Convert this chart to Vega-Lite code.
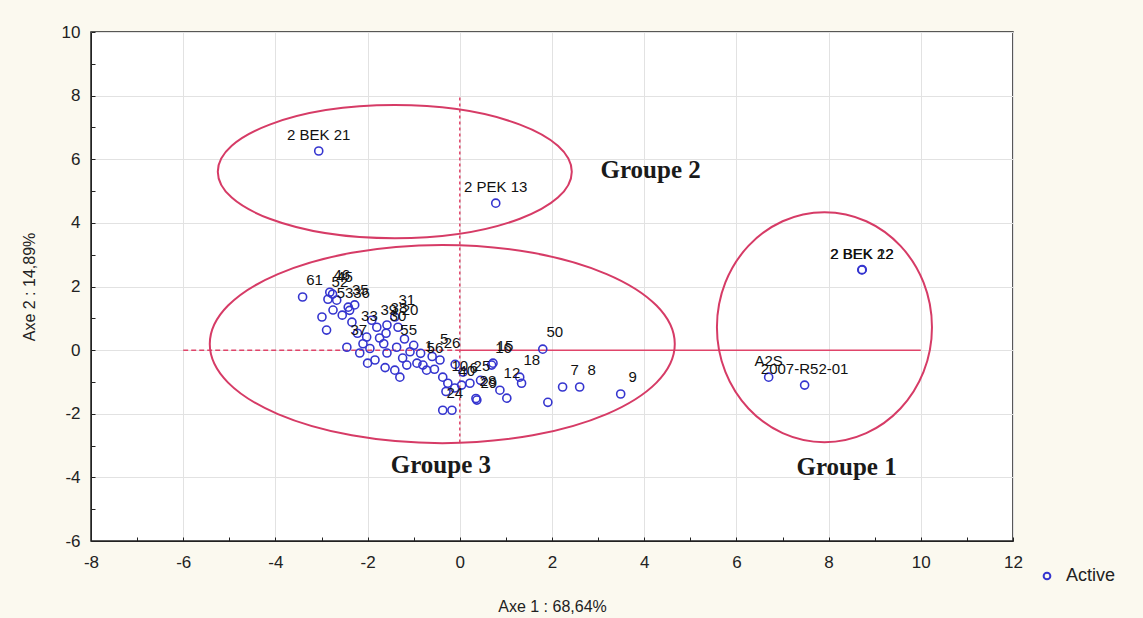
{
  "$schema": "https://vega.github.io/schema/vega-lite/v6.json",
  "width": 922,
  "height": 509,
  "autosize": "none",
  "padding": {"left": 91, "top": 32, "right": 130, "bottom": 77},
  "background": "#fbf9ef",
  "config": {
    "view": {"fill": "white", "stroke": "#222222", "strokeWidth": 1.5},
    "font": "Liberation Sans",
    "axis": {
      "gridColor": "#e2e2e2",
      "tickColor": "#222222",
      "domainColor": "#222222",
      "labelColor": "#222222",
      "labelFontSize": 17,
      "titleFontSize": 16,
      "titleFontWeight": "normal",
      "titleColor": "#222222",
      "tickSize": -4,
      "labelFlush": false,
      "labelOverlap": false,
      "gridOpacity": {"condition": {"test": "datum.value % 2 != 0", "value": 0}, "value": 1}
    }
  },
  "datasets": {
    "pts": [
      {"x": -3.06, "y": 6.26, "label": "2 BEK 21", "type": "Active"},
      {"x": 0.78, "y": 4.62, "label": "2 PEK 13", "type": "Active"},
      {"x": 8.72, "y": 2.52, "label": "2 BEK 22", "type": "Active"},
      {"x": 8.73, "y": 2.53, "label": "2 BEK 12", "type": "Active"},
      {"x": 6.70, "y": -0.85, "label": "A2S", "type": "Active"},
      {"x": 7.48, "y": -1.10, "label": "2007-R52-01", "type": "Active"},
      {"x": -3.41, "y": 1.67, "label": "61", "type": "Active"},
      {"x": -2.82, "y": 1.82, "label": "46", "type": "Active"},
      {"x": -2.76, "y": 1.76, "label": "45", "type": "Active"},
      {"x": -2.86, "y": 1.60, "label": "52", "type": "Active"},
      {"x": -2.67, "y": 1.57, "label": "", "type": "Active"},
      {"x": -2.99, "y": 1.04, "label": "", "type": "Active"},
      {"x": -2.89, "y": 0.63, "label": "", "type": "Active"},
      {"x": -2.75, "y": 1.26, "label": "53", "type": "Active"},
      {"x": -2.42, "y": 1.35, "label": "35", "type": "Active"},
      {"x": -2.39, "y": 1.25, "label": "36", "type": "Active"},
      {"x": -2.34, "y": 0.88, "label": "", "type": "Active"},
      {"x": -2.45, "y": 0.09, "label": "37", "type": "Active"},
      {"x": -2.22, "y": 0.53, "label": "33", "type": "Active"},
      {"x": -2.17, "y": -0.09, "label": "", "type": "Active"},
      {"x": -2.00, "y": -0.41, "label": "", "type": "Active"},
      {"x": -2.02, "y": 0.41, "label": "", "type": "Active"},
      {"x": -1.84, "y": -0.31, "label": "", "type": "Active"},
      {"x": -1.80, "y": 0.72, "label": "39", "type": "Active"},
      {"x": -1.74, "y": 0.38, "label": "", "type": "Active"},
      {"x": -1.58, "y": -0.09, "label": "", "type": "Active"},
      {"x": -1.60, "y": 0.53, "label": "30", "type": "Active"},
      {"x": -1.41, "y": 1.04, "label": "31", "type": "Active"},
      {"x": -1.41, "y": -0.63, "label": "", "type": "Active"},
      {"x": -1.30, "y": -0.85, "label": "", "type": "Active"},
      {"x": -1.37, "y": 0.09, "label": "55", "type": "Active"},
      {"x": -1.24, "y": -0.25, "label": "", "type": "Active"},
      {"x": -1.15, "y": -0.47, "label": "", "type": "Active"},
      {"x": -0.93, "y": -0.41, "label": "1", "type": "Active"},
      {"x": -0.80, "y": -0.47, "label": "56", "type": "Active"},
      {"x": -0.72, "y": -0.63, "label": "", "type": "Active"},
      {"x": -0.43, "y": -0.31, "label": "26", "type": "Active"},
      {"x": -0.37, "y": -0.85, "label": "", "type": "Active"},
      {"x": -0.26, "y": -1.04, "label": "10", "type": "Active"},
      {"x": -0.11, "y": -1.19, "label": "40", "type": "Active"},
      {"x": 0.04, "y": -1.10, "label": "6", "type": "Active"},
      {"x": 0.22, "y": -1.04, "label": "25", "type": "Active"},
      {"x": 0.37, "y": -1.57, "label": "29", "type": "Active"},
      {"x": 0.35, "y": -1.52, "label": "28", "type": "Active"},
      {"x": -0.37, "y": -1.89, "label": "24", "type": "Active"},
      {"x": -0.17, "y": -1.89, "label": "", "type": "Active"},
      {"x": 0.69, "y": -0.47, "label": "16", "type": "Active"},
      {"x": 0.72, "y": -0.41, "label": "15", "type": "Active"},
      {"x": 0.87, "y": -1.26, "label": "12", "type": "Active"},
      {"x": 1.02, "y": -1.51, "label": "", "type": "Active"},
      {"x": 1.30, "y": -0.85, "label": "18", "type": "Active"},
      {"x": 1.34, "y": -1.04, "label": "", "type": "Active"},
      {"x": 1.80, "y": 0.03, "label": "50", "type": "Active"},
      {"x": 1.91, "y": -1.64, "label": "", "type": "Active"},
      {"x": 2.23, "y": -1.16, "label": "7", "type": "Active"},
      {"x": 2.60, "y": -1.16, "label": "8", "type": "Active"},
      {"x": 3.49, "y": -1.38, "label": "9", "type": "Active"},
      {"x": -1.08, "y": -0.05, "label": "", "type": "Active"},
      {"x": -0.60, "y": -0.20, "label": "5", "type": "Active"},
      {"x": -0.10, "y": -0.45, "label": "", "type": "Active"},
      {"x": -1.58, "y": 0.79, "label": "38", "type": "Active"},
      {"x": -1.34, "y": 0.72, "label": "20", "type": "Active"},
      {"x": -1.91, "y": 0.94, "label": "", "type": "Active"},
      {"x": -2.28, "y": 1.42, "label": "", "type": "Active"},
      {"x": 0.07, "y": -0.69, "label": "", "type": "Active"},
      {"x": 0.45, "y": -0.95, "label": "", "type": "Active"},
      {"x": -2.55, "y": 1.10, "label": "", "type": "Active"},
      {"x": -2.10, "y": 0.20, "label": "", "type": "Active"},
      {"x": -1.95, "y": 0.05, "label": "", "type": "Active"},
      {"x": -1.65, "y": 0.20, "label": "", "type": "Active"},
      {"x": -1.20, "y": 0.35, "label": "", "type": "Active"},
      {"x": -1.00, "y": 0.15, "label": "", "type": "Active"},
      {"x": -0.85, "y": -0.10, "label": "", "type": "Active"},
      {"x": -1.62, "y": -0.55, "label": "", "type": "Active"},
      {"x": -0.55, "y": -0.60, "label": "", "type": "Active"},
      {"x": -0.30, "y": -1.30, "label": "", "type": "Active"}
    ]
  },
  "encoding": {
    "x": {
      "field": "x",
      "type": "quantitative",
      "scale": {"domain": [-8, 12], "nice": false, "zero": false},
      "axis": {
        "title": "Axe 1 : 68,64%",
        "values": [-8, -7, -6, -5, -4, -3, -2, -1, 0, 1, 2, 3, 4, 5, 6, 7, 8, 9, 10, 11, 12],
        "labelExpr": "datum.value % 2 == 0 ? toString(datum.value) : ''",
        "labelPadding": 17,
        "titlePadding": 28
      }
    },
    "y": {
      "field": "y",
      "type": "quantitative",
      "scale": {"domain": [-6, 10], "nice": false, "zero": false},
      "axis": {
        "title": "Axe 2 : 14,89%",
        "values": [-6, -5, -4, -3, -2, -1, 0, 1, 2, 3, 4, 5, 6, 7, 8, 9, 10],
        "labelExpr": "datum.value % 2 == 0 ? toString(datum.value) : ''",
        "labelPadding": 15,
        "titlePadding": 24
      }
    }
  },
  "layer": [
    {
      "data": {"values": [{"x": -6, "x2": 0, "y": 0}]},
      "mark": {"type": "rule", "color": "#e0456a", "strokeWidth": 1.5, "strokeDash": [5, 3]},
      "encoding": {"x2": {"field": "x2"}}
    },
    {
      "data": {"values": [{"x": 0, "x2": 10, "y": 0}]},
      "mark": {"type": "rule", "color": "#e0456a", "strokeWidth": 1.5},
      "encoding": {"x2": {"field": "x2"}}
    },
    {
      "data": {"values": [{"x": 0, "y": -2.9, "y2": 8}]},
      "mark": {"type": "rule", "color": "#e0456a", "strokeWidth": 1.5, "strokeDash": [3, 3]},
      "encoding": {"y2": {"field": "y2"}}
    },
    {
      "data": {"values": [{"x": -0.38, "y": 0.19}]},
      "mark": {"type": "point", "filled": false, "stroke": "#d63b66", "strokeWidth": 2, "opacity": 1, "size": 216225,
        "shape": "M 1 0 C 1 0.235 0.552 0.426 0 0.426 C -0.552 0.426 -1 0.235 -1 0 C -1 -0.235 -0.552 -0.426 0 -0.426 C 0.552 -0.426 1 -0.235 1 0 Z"}
    },
    {
      "data": {"values": [{"x": -1.41, "y": 5.61}]},
      "mark": {"type": "point", "filled": false, "stroke": "#d63b66", "strokeWidth": 2, "opacity": 1, "size": 125316,
        "shape": "M 1 0 C 1 0.208 0.552 0.376 0 0.376 C -0.552 0.376 -1 0.208 -1 0 C -1 -0.208 -0.552 -0.376 0 -0.376 C 0.552 -0.376 1 -0.208 1 0 Z"}
    },
    {
      "data": {"values": [{"x": 7.91, "y": 0.72}]},
      "mark": {"type": "point", "filled": false, "stroke": "#d63b66", "strokeWidth": 2, "opacity": 1, "size": 52900,
        "shape": "M 0.935 0 C 0.935 0.552 0.516 1 0 1 C -0.516 1 -0.935 0.552 -0.935 0 C -0.935 -0.552 -0.516 -1 0 -1 C 0.516 -1 0.935 -0.552 0.935 0 Z"}
    },
    {
      "data": {"name": "pts"},
      "mark": {"type": "point", "filled": false, "shape": "circle", "size": 65, "strokeWidth": 1.6, "opacity": 1},
      "encoding": {
        "color": {
          "field": "type",
          "type": "nominal",
          "scale": {"domain": ["Active"], "range": ["#3535cf"]},
          "legend": {
            "title": null,
            "orient": "none",
            "legendX": 947,
            "legendY": 535,
            "labelFontSize": 18,
            "labelColor": "#222222",
            "labelOffset": 10,
            "symbolSize": 45,
            "symbolStrokeWidth": 2,
            "padding": 0
          }
        }
      }
    },
    {
      "data": {"name": "pts"},
      "transform": [{"filter": "length(datum.label) > 2"}],
      "mark": {"type": "text", "fontSize": 15, "color": "#111111", "dy": -16, "align": "center"},
      "encoding": {"text": {"field": "label"}}
    },
    {
      "data": {"name": "pts"},
      "transform": [{"filter": "length(datum.label) > 0 && length(datum.label) <= 2"}],
      "mark": {"type": "text", "fontSize": 15, "color": "#111111", "dx": 12, "dy": -17, "align": "center"},
      "encoding": {"text": {"field": "label"}}
    },
    {
      "data": {"values": [
        {"x": 4.14, "y": 5.66, "label": "Groupe 2"},
        {"x": -0.41, "y": -3.62, "label": "Groupe 3"},
        {"x": 8.39, "y": -3.68, "label": "Groupe 1"}
      ]},
      "mark": {"type": "text", "font": "Liberation Serif", "fontWeight": "bold", "fontSize": 25, "color": "#1a1a1a", "align": "center", "baseline": "middle"},
      "encoding": {"text": {"field": "label"}}
    }
  ]
}
